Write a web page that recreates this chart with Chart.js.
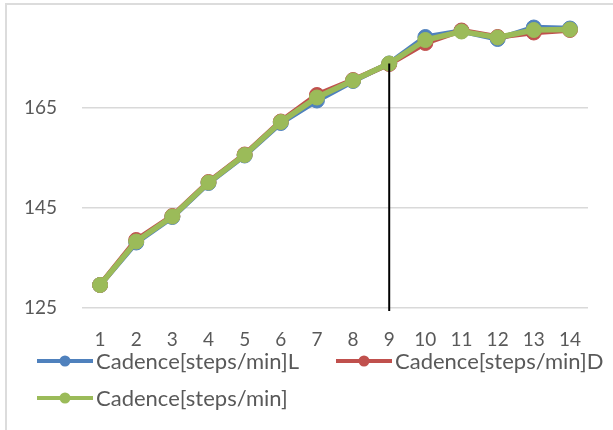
<!DOCTYPE html>
<html>
<head>
<meta charset="UTF-8">
<title>Cadence</title>
<script src="https://cdn.jsdelivr.net/npm/chart.js"></script>
<style>
  html, body { margin: 0; padding: 0; background: #fff; }
  #wrap { position: relative; width: 613px; height: 430px; overflow: hidden; }
  #frame { position: absolute; left: 5px; top: 3px; width: 700px; height: 500px; border: 2px solid #dcdcdc; box-sizing: border-box; }
  canvas { position: absolute; left: 0; top: 0; }
</style>
</head>
<body>
<div id="wrap">
  <div id="frame"></div>
  <canvas id="chart" width="613" height="430"></canvas>
</div>
<script>
// data
const categories = ['1', '2', '3', '4', '5', '6', '7', '8', '9', '10', '11', '12', '13', '14'];
const cadenceL = [129.6, 138.1, 143.2, 150.0, 155.5, 162.0, 166.5, 170.4, 173.9, 179.2, 180.4, 178.8, 181.1, 180.9];
const cadenceD = [129.6, 138.6, 143.4, 150.2, 155.7, 162.3, 167.6, 170.6, 173.8, 178.0, 180.5, 179.2, 180.1, 180.6];
const cadence  = [129.6, 138.3, 143.3, 150.1, 155.6, 162.2, 167.1, 170.5, 173.9, 178.6, 180.3, 179.1, 180.6, 180.7];
const yTicks = [125, 145, 165];
const seriesNames = ['Cadence[steps/min]L', 'Cadence[steps/min]D', 'Cadence[steps/min]'];
const markerIndex = 8; // vertical line at category 9

const textColor = '#595959';
const fontFamily = 'Lato, "Noto Sans", sans-serif';

function series(label, data, color, order) {
    return {
        label: label,
        data: data,
        borderColor: color,
        backgroundColor: color,
        pointBackgroundColor: color,
        pointBorderColor: color,
        borderWidth: 5.5,
        pointRadius: 7.5,
        pointBorderWidth: 1,
        tension: 0,
        order: order
    };
}

// vertical black line from the point down to the axis
const markerLine = {
    id: 'markerLine',
    afterDatasetsDraw(chart) {
        const ctx = chart.ctx;
        const xs = chart.scales.x, ys = chart.scales.y;
        const x = xs.getPixelForValue(markerIndex);
        const top = ys.getPixelForValue(cadence[markerIndex]);
        const bottom = ys.getPixelForValue(ys.min) + 3;
        ctx.save();
        ctx.strokeStyle = '#000';
        ctx.lineWidth = 2;
        ctx.beginPath();
        ctx.moveTo(x, top);
        ctx.lineTo(x, bottom);
        ctx.stroke();
        ctx.restore();
    }
};

// legend with line + marker symbols
const lineLegend = {
    id: 'lineLegend',
    afterDraw(chart) {
        const ctx = chart.ctx;
        const spots = [[37, 361], [336, 361], [37, 398]];
        ctx.save();
        ctx.font = '22px ' + fontFamily;
        ctx.textBaseline = 'middle';
        chart.data.datasets.forEach((ds, i) => {
            const [x, y] = spots[i];
            ctx.strokeStyle = ds.borderColor;
            ctx.lineWidth = 4;
            ctx.beginPath();
            ctx.moveTo(x, y);
            ctx.lineTo(x + 56, y);
            ctx.stroke();
            ctx.fillStyle = ds.borderColor;
            ctx.beginPath();
            ctx.arc(x + 28, y, 5.5, 0, Math.PI * 2);
            ctx.fill();
            ctx.fillStyle = textColor;
            ctx.fillText(ds.label, x + 59, y + 1);
        });
        ctx.restore();
    }
};

new Chart(document.getElementById('chart'), {
    type: 'line',
    data: {
        labels: categories,
        datasets: [
            series(seriesNames[0], cadenceL, '#4F81BD', 2),
            series(seriesNames[1], cadenceD, '#C0504D', 1),
            series(seriesNames[2], cadence, '#9BBB59', 0)
        ]
    },
    options: {
        responsive: false,
        animation: false,
        layout: { autoPadding: false, padding: { top: 3, right: 25, left: 0, bottom: 72 } },
        plugins: {
            legend: { display: false },
            tooltip: { enabled: false }
        },
        scales: {
            x: {
                offset: true,
                grid: { display: false, drawTicks: false, offset: true },
                border: { display: false },
                ticks: {
                    color: textColor,
                    font: { family: fontFamily, size: 19 },
                    padding: 20,
                    maxRotation: 0,
                    autoSkip: false
                },
                afterFit(scale) {
                    scale.height = 50;
                    scale.paddingLeft = 0;
                    scale.paddingRight = 0;
                }
            },
            y: {
                min: 125,
                max: 186,
                grid: { color: '#d9d9d9', lineWidth: 1.5, drawTicks: false },
                border: { display: false },
                ticks: {
                    color: textColor,
                    font: { family: fontFamily, size: 19 },
                    padding: 25
                },
                afterBuildTicks(scale) { scale.ticks = yTicks.map(v => ({ value: v })); },
                afterFit(scale) {
                    scale.width = 82;
                    scale.paddingTop = 0;
                    scale.paddingBottom = 0;
                }
            }
        }
    },
    plugins: [markerLine, lineLegend]
});
</script>
</body>
</html>
